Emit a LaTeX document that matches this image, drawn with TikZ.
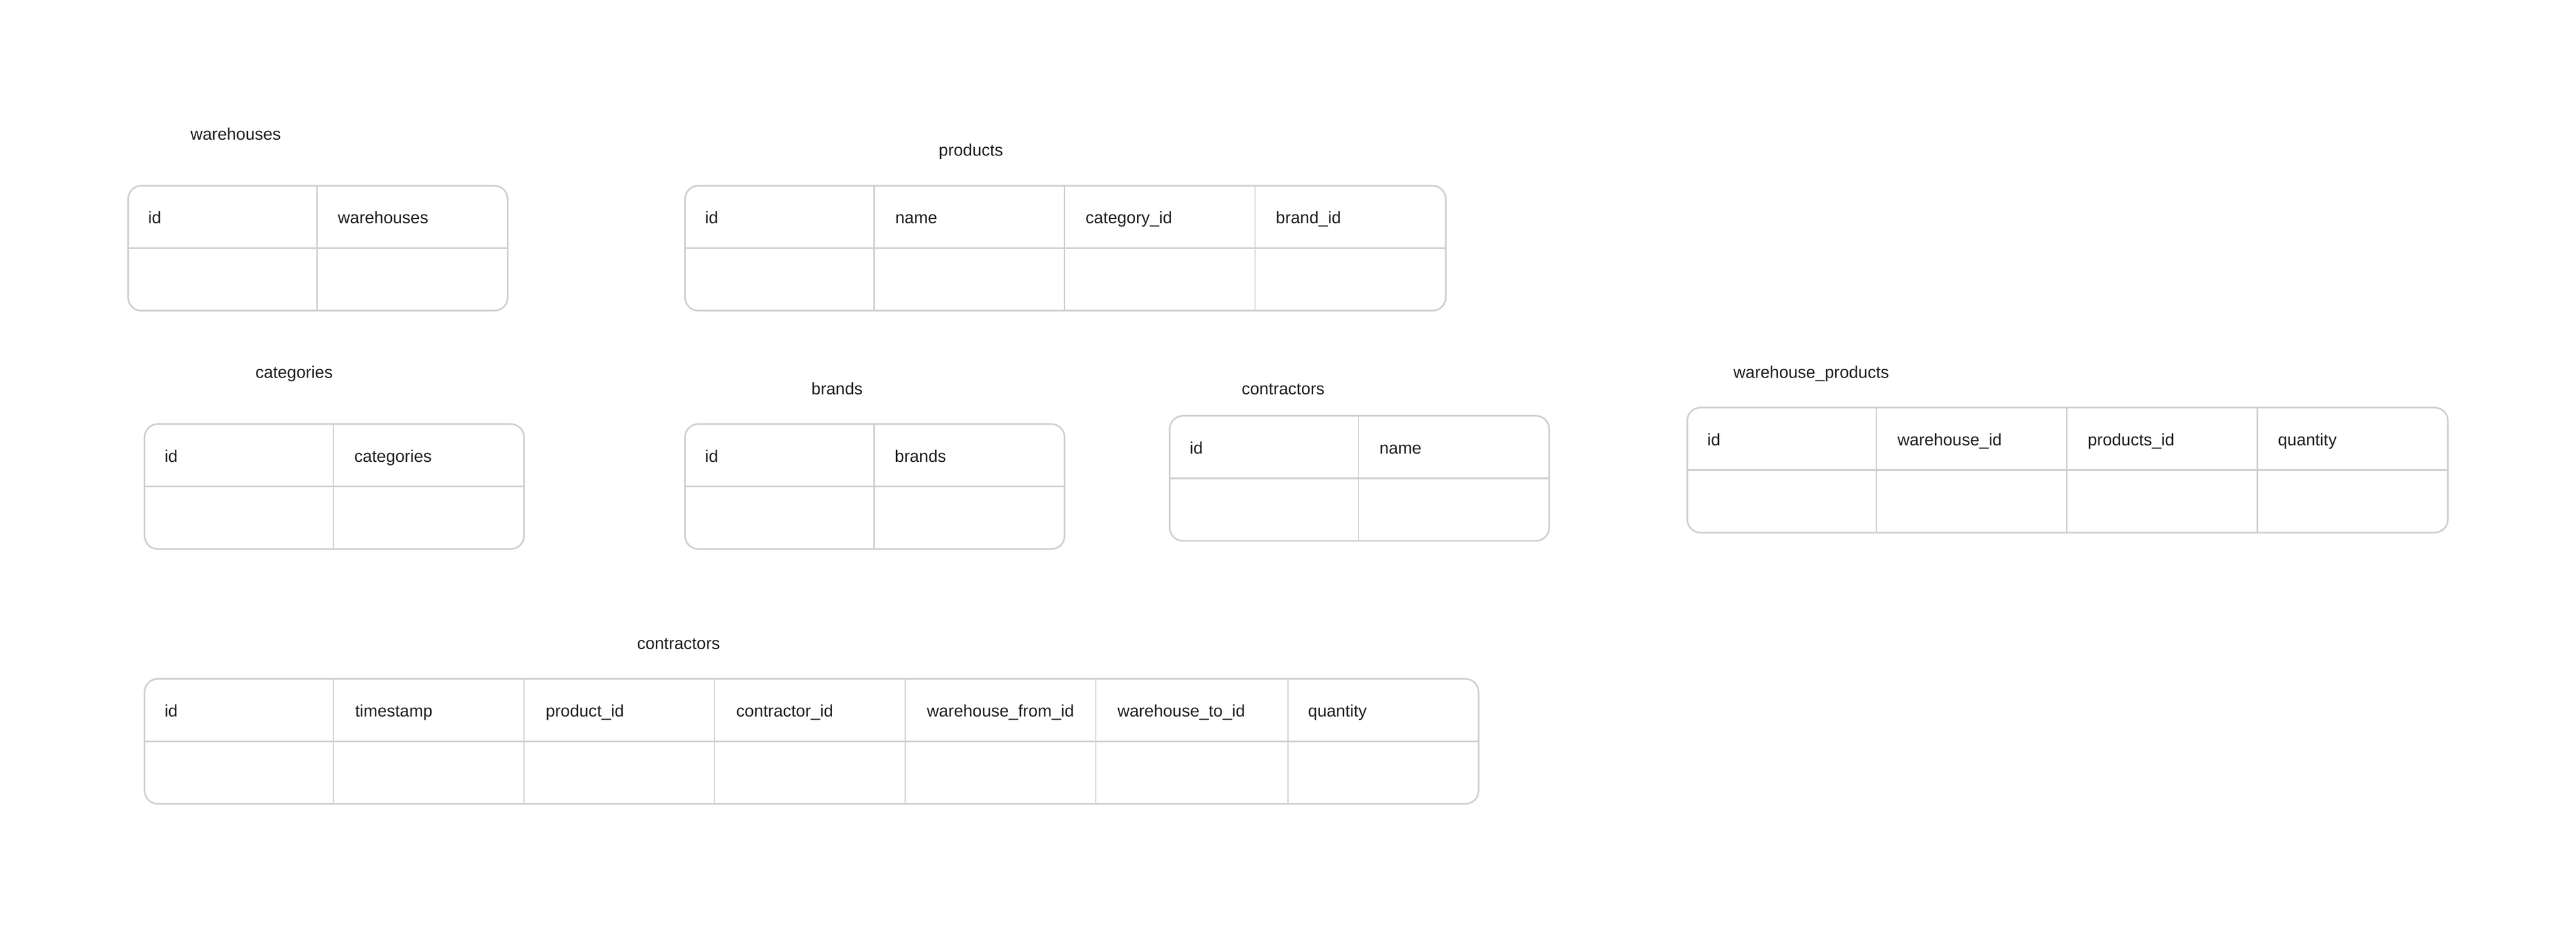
\documentclass[tikz,border=0pt]{standalone}
\usepackage{fontspec}
\setmainfont{Liberation Sans}
\usepackage{tikz}

\definecolor{gridline}{HTML}{CFCFCF}
\definecolor{ink}{HTML}{1E1E1E}

\begin{document}
\begin{tikzpicture} [x=1pt, y=-1pt,
 			      frame/.style={draw=gridline, line width=1pt, rounded corners=8pt},
 			      rowline/.style={draw=gridline, line width=1pt},
 			      colline/.style={draw=gridline, line width=0.7pt},
 			      head/.style={anchor=base west, text=ink, inner sep=0pt, font=\fontsize{10.2}{12}\selectfont},
 			      title/.style={anchor=base, text=ink, inner sep=0pt, font=\fontsize{10.2}{12}\selectfont}]
    \useasboundingbox (0,0) rectangle (1568,567.4);

    % warehouses
    \node[title] (t-warehouses) at (143.5,85) {warehouses};
    \draw[rowline] (78,151) -- (309,151);
    \foreach \x in {193} \draw[colline] (\x,113) -- (\x,189);
    \draw[frame] (78,113) rectangle (309,189);
    \foreach \t [count=\i] in {id,warehouses}
    	\node[head] (warehouses-\i) at ({90+115.5*(\i-1)},136) {\t};

    % products
    \node[title] (t-products) at (591,95) {products};
    \draw[rowline] (417,151) -- (880,151);
    \foreach \x in {532,648,764} \draw[colline] (\x,113) -- (\x,189);
    \draw[frame] (417,113) rectangle (880,189);
    \foreach \t [count=\i] in {id,name,category\_id,brand\_id}
    	\node[head] (products-\i) at ({429+115.8*(\i-1)},136) {\t};

    % categories
    \node[title] (t-categories) at (179,230) {categories};
    \draw[rowline] (88,296) -- (319,296);
    \foreach \x in {203} \draw[colline] (\x,258) -- (\x,334);
    \draw[frame] (88,258) rectangle (319,334);
    \foreach \t [count=\i] in {id,categories}
    	\node[head] (categories-\i) at ({100+115.5*(\i-1)},281) {\t};

    % brands
    \node[title] (t-brands) at (509.5,240) {brands};
    \draw[rowline] (417,296) -- (648,296);
    \foreach \x in {532} \draw[colline] (\x,258) -- (\x,334);
    \draw[frame] (417,258) rectangle (648,334);
    \foreach \t [count=\i] in {id,brands}
    	\node[head] (brands-\i) at ({429+115.5*(\i-1)},281) {\t};

    % contractors
    \node[title] (t-contractors) at (781,240) {contractors};
    \draw[rowline] (712,291) -- (943,291);
    \foreach \x in {827} \draw[colline] (\x,253) -- (\x,329);
    \draw[frame] (712,253) rectangle (943,329);
    \foreach \t [count=\i] in {id,name}
    	\node[head] (contractors-\i) at ({724+115.5*(\i-1)},276) {\t};

    % warehouse_products
    \node[title] (t-whproducts) at (1102.5,230) {warehouse\_products};
    \draw[rowline] (1027,286) -- (1490,286);
    \foreach \x in {1142,1258,1374} \draw[colline] (\x,248) -- (\x,324);
    \draw[frame] (1027,248) rectangle (1490,324);
    \foreach \t [count=\i] in {id,warehouse\_id,products\_id,quantity}
    	\node[head] (whproducts-\i) at ({1039+115.8*(\i-1)},271) {\t};

    % contractors (movements)
    \node[title] (t-moves) at (413,395) {contractors};
    \draw[rowline] (88,451) -- (900,451);
    \foreach \x in {203,319,435,551,667,784} \draw[colline] (\x,413) -- (\x,489);
    \draw[frame] (88,413) rectangle (900,489);
    \foreach \t [count=\i] in {id,timestamp,product\_id,contractor\_id,warehouse\_from\_id,warehouse\_to\_id,quantity}
    	\node[head] (moves-\i) at ({100+116*(\i-1)},436) {\t};

\end{tikzpicture}
\end{document}
